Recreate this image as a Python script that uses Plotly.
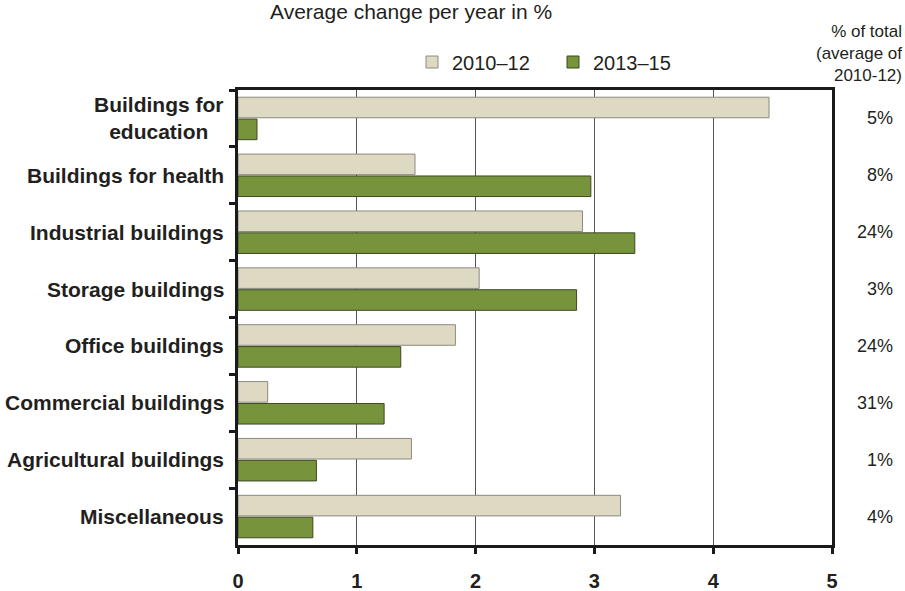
import plotly.graph_objects as go

categories = ["Buildings for<br>education", "Buildings for health", "Industrial buildings",
              "Storage buildings", "Office buildings", "Commercial buildings",
              "Agricultural buildings", "Miscellaneous"]
share_labels = ["5%", "8%", "24%", "3%", "24%", "31%", "1%", "4%"]
v_2010_12 = [4.47, 1.49, 2.90, 2.03, 1.83, 0.25, 1.46, 3.22]
v_2013_15 = [0.16, 2.97, 3.34, 2.85, 1.37, 1.23, 0.66, 0.63]
x_ticks = [0, 1, 2, 3, 4, 5]

FONT = "Liberation Sans, Arial, sans-serif"
TXT = "#231F20"
L, R, T, B = 238, 73, 90, 46
PW, PH = 905 - L - R, 591 - T - B

def px_x(x):
    return (x - L) / PW

def px_y(y):
    return (591 - B - y) / PH

fig = go.Figure()
fig.add_trace(go.Bar(y=categories, x=v_2010_12, orientation="h", name="2010–12",
                     marker=dict(color="#DDD9C3", line=dict(color="#8c8a80", width=1))))
fig.add_trace(go.Bar(y=categories, x=v_2013_15, orientation="h", name="2013–15",
                     marker=dict(color="#77933C", line=dict(color="#3d4a20", width=1))))

annotations = []
for c in categories:
    annotations.append(dict(xref="paper", yref="y", x=px_x(226), y=c, text="<b>%s</b>" % c,
                            xanchor="right", yanchor="middle", align="center", showarrow=False,
                            font=dict(family=FONT, size=21, color=TXT)))
for c, s in zip(categories, share_labels):
    annotations.append(dict(xref="paper", yref="y", x=px_x(895), y=c, text=s,
                            xanchor="right", yanchor="middle", showarrow=False,
                            font=dict(family=FONT, size=18, color=TXT)))
annotations.append(dict(xref="paper", yref="paper", x=px_x(268), y=px_y(12),
                        text="Average change per year in %", xanchor="left", yanchor="middle",
                        showarrow=False, font=dict(family=FONT, size=21, color=TXT)))
annotations.append(dict(xref="paper", yref="paper", x=px_x(904), y=px_y(53),
                        text="% of total<br>(average of<br>2010-12)", xanchor="right", yanchor="middle",
                        align="right", showarrow=False, font=dict(family=FONT, size=17, color=TXT)))

fig.update_layout(
    width=905, height=591,
    margin=dict(l=L, r=R, t=T, b=B, autoexpand=False),
    paper_bgcolor="white", plot_bgcolor="white",
    barmode="group", bargap=0.23, bargroupgap=0.06,
    font=dict(family=FONT, size=17, color=TXT),
    showlegend=True,
    legend=dict(orientation="h", x=px_x(412), y=px_y(62), xanchor="left", yanchor="middle",
                font=dict(family=FONT, size=20, color=TXT), bgcolor="rgba(0,0,0,0)",
                itemwidth=30, tracegroupgap=0, entrywidth=96),
    annotations=annotations,
)
fig.update_xaxes(range=[0, 5], tickvals=x_ticks, ticktext=["<b>%d</b>" % t for t in x_ticks],
                 showgrid=True, gridcolor="#555", gridwidth=1, automargin=False,
                 showline=True, linecolor="#1a1a1a", linewidth=3, mirror=True,
                 ticks="outside", ticklen=6, tickwidth=3, tickcolor="#1a1a1a",
                 tickfont=dict(family=FONT, size=20, color=TXT), ticklabelstandoff=10,
                 zeroline=False, fixedrange=True)
fig.update_yaxes(categoryorder="array", categoryarray=categories, autorange="reversed",
                 showticklabels=False, showgrid=False, automargin=False,
                 showline=True, linecolor="#1a1a1a", linewidth=3, mirror=True,
                 ticks="outside", tickson="boundaries", ticklen=6, tickwidth=3, tickcolor="#1a1a1a",
                 zeroline=False, fixedrange=True)

fig.write_html("out.html", post_script="document.body.style.margin='0px';",
               config={"displayModeBar": False})
